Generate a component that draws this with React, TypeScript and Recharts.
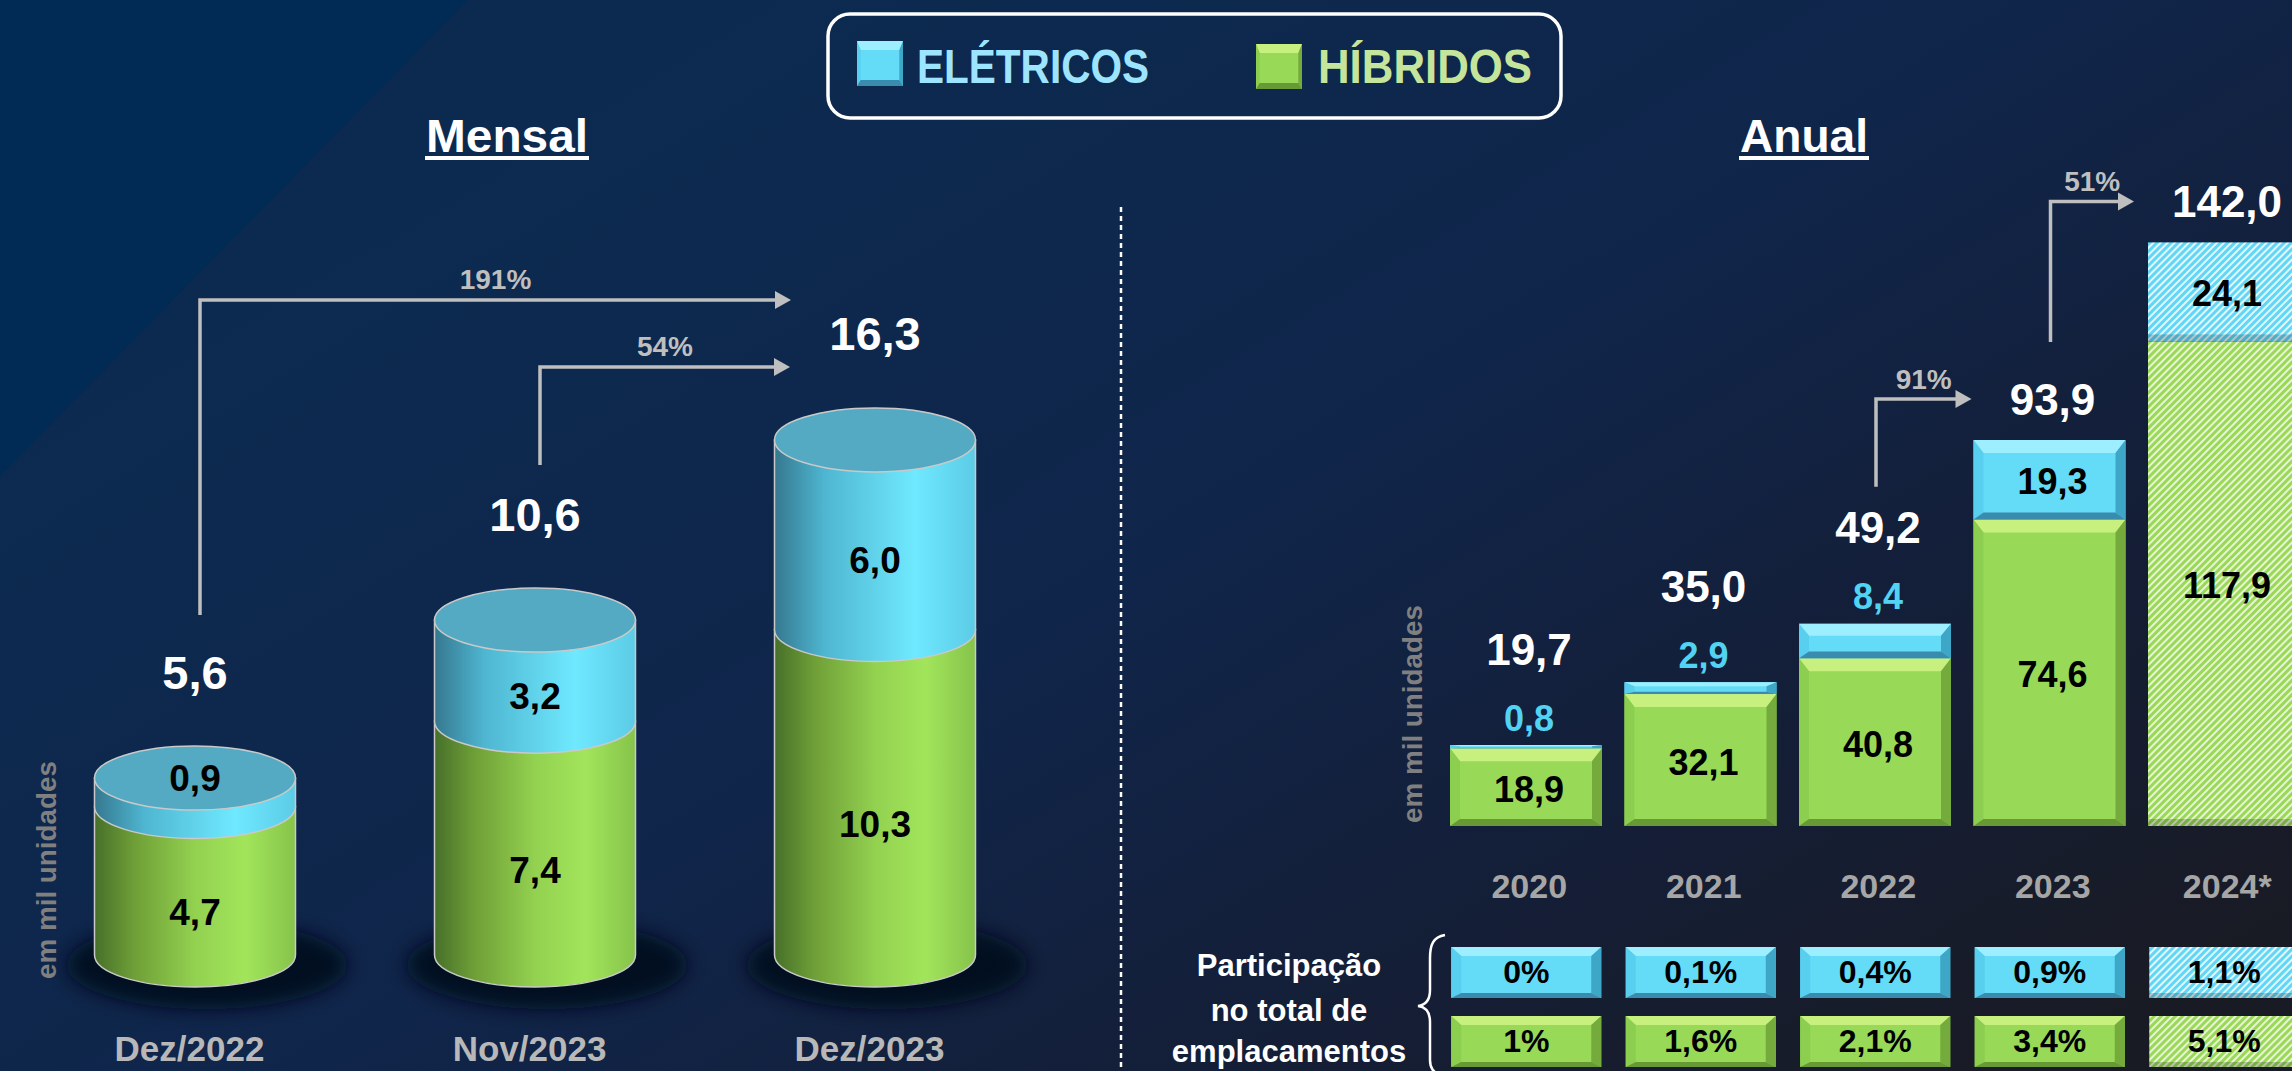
import React from "react";
import { BarChart, Bar, XAxis, YAxis, LabelList, Legend } from "recharts";

const FONT = '"Liberation Sans", Arial, sans-serif';

// Mensal
const mensalMeses = ["Dez/2022", "Nov/2023", "Dez/2023"];
const mensalHibridos = [4.7, 7.4, 10.3];
const mensalEletricos = [0.9, 3.2, 6.0];
const mensalTotais = [5.6, 10.6, 16.3];
const mensalCrescimento = [
  { de: 0, para: 2, rotulo: "191%" },
  { de: 1, para: 2, rotulo: "54%" },
];

// Anual
const anualAnos = ["2020", "2021", "2022", "2023", "2024*"];
const anualHibridos = [18.9, 32.1, 40.8, 74.6, 117.9];
const anualEletricos = [0.8, 2.9, 8.4, 19.3, 24.1];
const anualTotais = [19.7, 35.0, 49.2, 93.9, 142.0];
const anualCrescimento = [
  { de: 2, para: 3, rotulo: "91%" },
  { de: 3, para: 4, rotulo: "51%" },
];

// participação no total de emplacamentos
const partEletricos = ["0%", "0,1%", "0,4%", "0,9%", "1,1%"];
const partHibridos = ["1%", "1,6%", "2,1%", "3,4%", "5,1%"];

const mensalData = mensalMeses.map((mes, i) => ({
  mes,
  hibridos: mensalHibridos[i],
  eletricos: mensalEletricos[i],
  total: mensalTotais[i],
}));

const anualData = anualAnos.map((ano, i) => ({
  ano,
  hibridos: anualHibridos[i],
  eletricos: anualEletricos[i],
  total: anualTotais[i],
  projecao: ano.endsWith("*"),
}));

const fmt = (v: number) => Number(v).toFixed(1).replace(".", ",");

const RY = 32;
const GREEN = { base: "#98d957", top: "#c7f07f", left: "#8ccf50", right: "#75ab3d", bottom: "#679934" };
const BLUE = { base: "#64dcf8", top: "#9defff", left: "#58cfee", right: "#3ea6c6", bottom: "#3a8cae" };

// layout of the growth arrows (pixels, relative to the labels)
const SETAS_M = [
  { gap: 57, dy: -34, tip: -84 },
  { gap: 49, dy: 33, tip: -85 },
];
const SETAS_A = [
  { gap: 41, dy: 0, tip: -78 },
  { gap: 57, dy: 0, tip: -90 },
];

function box(p: any) {
  const vb = p.viewBox && p.viewBox.width != null ? p.viewBox : p;
  let x = Number(vb.x), y = Number(vb.y), w = Number(vb.width), h = Number(vb.height);
  if (h < 0) {
    y += h;
    h = -h;
  }
  return { x, y, w, h, i: Number(p.index) };
}

function Bevel({ x, y, w, h, pal, hatch, t = 13, b = 7 }: any) {
  if (!(h > 0)) return null;
  const tt = Math.min(t, h * 0.35);
  const bb = Math.min(b, h * 0.2);
  const s = Math.min(10, w * 0.08);
  const X2 = x + w;
  const Y2 = y + h;
  if (hatch) {
    return (
      <g>
        <rect x={x} y={y} width={w} height={h} fill={`url(#${hatch})`} />
        <rect x={x} y={Y2 - bb} width={w} height={bb} fill="#000" opacity={0.2} />
      </g>
    );
  }
  return (
    <g>
      <rect x={x} y={y} width={w} height={h} fill={pal.base} />
      <polygon points={`${x},${y} ${X2},${y} ${X2 - s},${y + tt} ${x + s},${y + tt}`} fill={pal.top} />
      <polygon points={`${x},${y} ${x + s},${y + tt} ${x + s},${Y2 - bb} ${x},${Y2}`} fill={pal.left} />
      <polygon points={`${X2},${y} ${X2 - s},${y + tt} ${X2 - s},${Y2 - bb} ${X2},${Y2}`} fill={pal.right} />
      <polygon points={`${x},${Y2} ${x + s},${Y2 - bb} ${X2 - s},${Y2 - bb} ${X2},${Y2}`} fill={pal.bottom} />
    </g>
  );
}

function Seta({ sx, sy, hy, tip, label }: any) {
  return (
    <g>
      <polyline points={`${sx},${sy} ${sx},${hy} ${tip - 12},${hy}`} fill="none" stroke="#bfbfbf" strokeWidth={3.5} />
      <polygon points={`${tip - 16},${hy - 9} ${tip},${hy} ${tip - 16},${hy + 9}`} fill="#bfbfbf" />
      <text
        x={(sx + tip) / 2}
        y={hy - 20}
        textAnchor="middle"
        dominantBaseline="central"
        fontFamily={FONT}
        fontWeight={700}
        fontSize={28}
        fill="#bfbfbf"
      >
        {label}
      </text>
    </g>
  );
}

// ---------- Mensal (cylinders) ----------
function CylGreen(p: any) {
  const { x, y, width: w, height: h } = p;
  if (!(h > 0)) return null;
  const rx = w / 2;
  const by = y + h;
  return (
    <g>
      <ellipse cx={x + rx + 12} cy={by + 10} rx={rx + 40} ry={RY + 12} fill="#010a1a" opacity={0.9} filter="url(#sombra)" />
      <path
        d={`M${x},${y} L${x},${by} A${rx},${RY} 0 0 0 ${x + w},${by} L${x + w},${y} Z`}
        fill="url(#cylGreen)"
        stroke="#c9c9c9"
        strokeWidth={1.5}
      />
    </g>
  );
}

function CylBlue(p: any) {
  const { x, y, width: w, height: h } = p;
  if (!(h > 0)) return null;
  const rx = w / 2;
  const by = y + h;
  return (
    <g>
      <path
        d={`M${x},${y} L${x},${by} A${rx},${RY} 0 0 0 ${x + w},${by} L${x + w},${y} Z`}
        fill="url(#cylBlue)"
        stroke="#c9c9c9"
        strokeWidth={1.5}
      />
      <ellipse cx={x + rx} cy={y} rx={rx} ry={RY} fill="#53aac2" stroke="#c9c9c9" strokeWidth={1.5} />
    </g>
  );
}

const segText = (x: number, y: number, v: any, size: number, fill = "#000") => (
  <text
    x={x}
    y={y}
    textAnchor="middle"
    dominantBaseline="central"
    fontFamily={FONT}
    fontWeight={700}
    fontSize={size}
    fill={fill}
  >
    {v}
  </text>
);

function mensalGreenLabel(p: any) {
  const { x, y, w, h } = box(p);
  return segText(x + w / 2, y + h / 2 + RY, fmt(p.value), 37);
}

function mensalBlueLabel(p: any) {
  const { x, y, w, h } = box(p);
  const ly = h < 50 ? y : y + h / 2 + RY - 6;
  return segText(x + w / 2, ly, fmt(p.value), 37);
}

const posM: Record<number, { cx: number; ly: number }> = {};
function mensalTotal(p: any) {
  const { x, y, w, i } = box(p);
  const cx = x + w / 2;
  const ly = y - 106;
  posM[i] = { cx, ly };
  return (
    <g>
      {mensalCrescimento.map((a, k) => {
        if (a.para !== i || !posM[a.de]) return null;
        const src = posM[a.de];
        const L = SETAS_M[k];
        return <Seta key={k} sx={src.cx + 5} sy={src.ly - L.gap} hy={ly + L.dy} tip={cx + L.tip} label={a.rotulo} />;
      })}
      {segText(cx, ly, fmt(p.value), 47, "#ffffff")}
    </g>
  );
}

function MensalTick(p: any) {
  return (
    <text x={p.x - 5} y={p.y + 106} textAnchor="middle" fontFamily={FONT} fontWeight={700} fontSize={35} fill="#b8b8b8">
      {p.payload.value}
    </text>
  );
}

// ---------- Anual (bevel bars) ----------
function anualShape(kind: "g" | "b") {
  return (p: any) => {
    const proj = anualData[p.index]?.projecao;
    return (
      <Bevel
        x={p.x}
        y={p.y}
        w={p.width}
        h={p.height}
        pal={kind === "g" ? GREEN : BLUE}
        hatch={proj ? (kind === "g" ? "hatchg" : "hatchb") : undefined}
      />
    );
  };
}

function anualGreenLabel(p: any) {
  const { x, y, w, h } = box(p);
  return segText(x + w / 2 + 3, y + h / 2 + 2, fmt(p.value), 36);
}

function anualBlueLabel(p: any) {
  const { x, y, w, h } = box(p);
  if (h < 45) return segText(x + w / 2 + 3, y - 27, fmt(p.value), 36, "#52d3f4");
  return segText(x + w / 2 + 3, y + h / 2 + 2, fmt(p.value), 36);
}

const posA: Record<number, { cx: number; ly: number }> = {};
function anualTotal(p: any) {
  const { x, y, w, h, i } = box(p);
  const cx = x + w / 2;
  const ly = h < 45 ? y - 96 : y - 41;
  posA[i] = { cx, ly };
  return (
    <g>
      {anualCrescimento.map((a, k) => {
        if (a.para !== i || !posA[a.de]) return null;
        const src = posA[a.de];
        const L = SETAS_A[k];
        return <Seta key={k} sx={src.cx + 1} sy={src.ly - L.gap} hy={ly + L.dy} tip={cx + L.tip} label={a.rotulo} />;
      })}
      {segText(cx + 3, ly, fmt(p.value), 44, "#ffffff")}
    </g>
  );
}

function AnualTick(p: any) {
  const i = typeof p.index === "number" ? p.index : anualAnos.indexOf(p.payload.value);
  const proj = anualData[i]?.projecao;
  const bx = p.x - 75;
  return (
    <g>
      <text x={p.x + 3} y={p.y + 72} textAnchor="middle" fontFamily={FONT} fontWeight={700} fontSize={34} fill="#a6a6a6">
        {p.payload.value}
      </text>
      <Bevel x={bx} y={p.y + 121} w={150} h={51} pal={BLUE} hatch={proj ? "hatchb" : undefined} t={9} b={5} />
      {segText(p.x, p.y + 146, partEletricos[i], 32)}
      <Bevel x={bx} y={p.y + 190} w={150} h={51} pal={GREEN} hatch={proj ? "hatchg" : undefined} t={9} b={5} />
      {segText(p.x, p.y + 215, partHibridos[i], 32)}
    </g>
  );
}

// ---------- Legend ----------
function LegendBox({ payload }: any) {
  const items = payload || [];
  const find = (k: string) => items.find((it: any) => it.dataKey === k);
  const el = find("eletricos");
  const hi = find("hibridos");
  return (
    <svg width={737} height={108} style={{ display: "block", overflow: "visible" }}>
      <rect x={2} y={2} width={733} height={104} rx={22} fill="none" stroke="#ffffff" strokeWidth={3.5} />
      <Bevel x={31} y={29} w={46} h={45} pal={BLUE} t={9} b={6} />
      <text x={91} y={71} fontFamily={FONT} fontWeight={700} fontSize={49} fill="#9de5ff" textLength={232} lengthAdjust="spacingAndGlyphs">
        {el ? el.value : "ELÉTRICOS"}
      </text>
      <Bevel x={430} y={32} w={46} h={45} pal={GREEN} t={9} b={6} />
      <text x={492} y={71} fontFamily={FONT} fontWeight={700} fontSize={49} fill="#c5e59d" textLength={214} lengthAdjust="spacingAndGlyphs">
        {hi ? hi.value : "HÍBRIDOS"}
      </text>
    </svg>
  );
}

function Background() {
  return (
    <svg width={2292} height={1071} style={{ position: "absolute", left: 0, top: 0 }}>
      <defs>
        <linearGradient id="bg" x1="0.15" y1="0.2" x2="1" y2="0.85">
          <stop offset="0" stopColor="#0c2a50" />
          <stop offset="0.45" stopColor="#10254a" />
          <stop offset="0.75" stopColor="#141e36" />
          <stop offset="1" stopColor="#191b24" />
        </linearGradient>
        <linearGradient id="cylGreen" x1="0" y1="0" x2="1" y2="0">
          <stop offset="0" stopColor="#46702a" />
          <stop offset="0.2" stopColor="#6f9f37" />
          <stop offset="0.5" stopColor="#93d150" />
          <stop offset="0.75" stopColor="#a2e55b" />
          <stop offset="1" stopColor="#86c34b" />
        </linearGradient>
        <linearGradient id="cylBlue" x1="0" y1="0" x2="1" y2="0">
          <stop offset="0" stopColor="#35788f" />
          <stop offset="0.25" stopColor="#4fb6d1" />
          <stop offset="0.7" stopColor="#6fe9ff" />
          <stop offset="1" stopColor="#5ccbe6" />
        </linearGradient>
        <pattern id="hatchg" patternUnits="userSpaceOnUse" width="5" height="5" patternTransform="rotate(45)">
          <rect width="5" height="5" fill="#e8f5d5" />
          <rect width="3" height="5" fill="#9ad957" />
        </pattern>
        <pattern id="hatchb" patternUnits="userSpaceOnUse" width="5" height="5" patternTransform="rotate(45)">
          <rect width="5" height="5" fill="#e2f8fe" />
          <rect width="3" height="5" fill="#62d7f5" />
        </pattern>
        <filter id="sombra" x="-50%" y="-50%" width="200%" height="200%">
          <feGaussianBlur stdDeviation="9" />
        </filter>
      </defs>
      <rect width={2292} height={1071} fill="url(#bg)" />
      <polygon points="0,0 468,0 0,476" fill="#002b55" opacity={0.85} />

      <text x={507} y={152} textAnchor="middle" fontFamily={FONT} fontWeight={700} fontSize={47} fill="#fff" textLength={162} lengthAdjust="spacingAndGlyphs">
        Mensal
      </text>
      <rect x={425} y={156} width={164} height={4} fill="#fff" />
      <text x={1804} y={152} textAnchor="middle" fontFamily={FONT} fontWeight={700} fontSize={47} fill="#fff" textLength={128} lengthAdjust="spacingAndGlyphs">
        Anual
      </text>
      <rect x={1739} y={156} width={130} height={4} fill="#fff" />

      <line x1={1121} y1={207} x2={1121} y2={1071} stroke="#ffffff" strokeWidth={2.5} strokeDasharray="5 4" />

      <text
        transform="translate(47,870) rotate(-90)"
        textAnchor="middle"
        dominantBaseline="central"
        fontFamily={FONT}
        fontWeight={700}
        fontSize={27}
        fill="#808080"
        textLength={218}
        lengthAdjust="spacingAndGlyphs"
      >
        em mil unidades
      </text>
      <text
        transform="translate(1413,714) rotate(-90)"
        textAnchor="middle"
        dominantBaseline="central"
        fontFamily={FONT}
        fontWeight={700}
        fontSize={27}
        fill="#808080"
        textLength={218}
        lengthAdjust="spacingAndGlyphs"
      >
        em mil unidades
      </text>

      <g fontFamily={FONT} fontWeight={700} fontSize={31} fill="#fff" textAnchor="middle">
        <text x={1289} y={976}>Participação</text>
        <text x={1289} y={1021}>no total de</text>
        <text x={1289} y={1062}>emplacamentos</text>
      </g>
      <path
        d="M1445,935 C1433,937 1430,945 1430,958 L1430,990 C1430,1000 1426,1005 1418,1006 C1426,1007 1430,1012 1430,1022 L1430,1060 C1430,1068 1433,1072 1441,1076"
        fill="none"
        stroke="#fff"
        strokeWidth={2.5}
      />
    </svg>
  );
}

export default function App() {
  return (
    <div style={{ position: "absolute", left: 0, top: 0, width: 2292, height: 1071, overflow: "hidden" }}>
      <Background />
      <div style={{ position: "absolute", left: 0, top: 0 }}>
        <BarChart
          width={1146}
          height={1071}
          data={mensalData}
          margin={{ top: 323, right: 101.5, bottom: 86, left: 24.5 }}
          barSize={201}
        >
          <XAxis dataKey="mes" height={30} axisLine={false} tickLine={false} tickSize={0} tickMargin={0} interval={0} tick={(p: any) => <MensalTick {...p} />} />
          <YAxis hide domain={[0, 20]} />
          <Legend
            layout="horizontal"
            verticalAlign="middle"
            align="center"
            wrapperStyle={{ position: "absolute", left: 826, top: 12, width: 737, height: 108 }}
            content={(props: any) => <LegendBox payload={props.payload} />}
          />
          <Bar dataKey="hibridos" name="HÍBRIDOS" stackId="m" fill="#98d957" isAnimationActive={false} shape={(p: any) => <CylGreen {...p} />}>
            <LabelList dataKey="hibridos" content={mensalGreenLabel} />
          </Bar>
          <Bar dataKey="eletricos" name="ELÉTRICOS" stackId="m" fill="#64dcf8" isAnimationActive={false} shape={(p: any) => <CylBlue {...p} />}>
            <LabelList dataKey="eletricos" content={mensalBlueLabel} />
            <LabelList dataKey="total" content={mensalTotal} />
          </Bar>
        </BarChart>
      </div>
      <div style={{ position: "absolute", left: 1146, top: 0 }}>
        <BarChart
          width={1180}
          height={1071}
          data={anualData}
          margin={{ top: 4, right: 14.5, bottom: 215, left: 293 }}
          barSize={152}
        >
          <XAxis dataKey="ano" height={30} axisLine={false} tickLine={false} tickSize={0} tickMargin={0} interval={0} tick={(p: any) => <AnualTick {...p} />} />
          <YAxis hide domain={[0, 200]} />
          <Bar dataKey="hibridos" name="HÍBRIDOS" stackId="a" fill="#98d957" isAnimationActive={false} shape={anualShape("g")}>
            <LabelList dataKey="hibridos" content={anualGreenLabel} />
          </Bar>
          <Bar dataKey="eletricos" name="ELÉTRICOS" stackId="a" fill="#64dcf8" isAnimationActive={false} shape={anualShape("b")}>
            <LabelList dataKey="eletricos" content={anualBlueLabel} />
            <LabelList dataKey="total" content={anualTotal} />
          </Bar>
        </BarChart>
      </div>
    </div>
  );
}
